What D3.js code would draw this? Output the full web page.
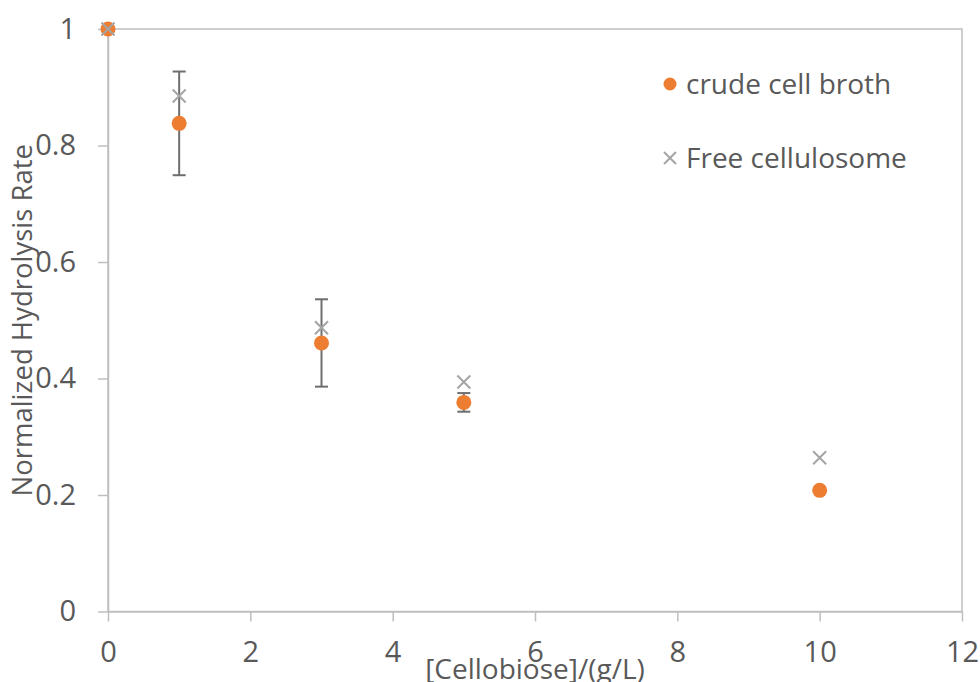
<!DOCTYPE html>
<html>
<head>
<meta charset="utf-8">
<script src="https://cdn.jsdelivr.net/npm/d3@7"></script>
<style>
  body { margin: 0; background: #fff; }
  svg { display: block; font-family: "Open Sans", sans-serif; }
</style>
</head>
<body>
<div id="chart"></div>
<script>
// data
const concentrations = [0, 1, 3, 5, 10];
const crudeBroth = [1, 0.838, 0.461, 0.359, 0.208];
const crudeBrothErr = [0, 0.089, 0.075, 0.016, 0];
const freeCellulosome = [1, 0.885, 0.487, 0.394, 0.264];
const xTicks = [0, 2, 4, 6, 8, 10, 12];
const yTicks = [0, 0.2, 0.4, 0.6, 0.8, 1];
const seriesNames = ["crude cell broth", "Free cellulosome"];

const width = 980, height = 682;
const margin = {top: 29, right: 18, bottom: 70.5, left: 108};

const svg = d3.select("#chart").append("svg")
    .attr("width", width)
    .attr("height", height);

const x = d3.scaleLinear().domain([0, 12]).range([margin.left, width - margin.right]);
const y = d3.scaleLinear().domain([0, 1]).range([height - margin.bottom, margin.top]);

const textColor = "#595959";
const axisColor = "#bfbfbf";
const orange = "#ed7d31";
const grey = "#a5a5a5";
const fontSize = "28px";

// plot box
svg.append("rect")
    .attr("x", x(0)).attr("y", y(1))
    .attr("width", x(12) - x(0)).attr("height", y(0) - y(1))
    .attr("fill", "none")
    .attr("stroke", axisColor)
    .attr("stroke-width", 1.5);

const xAxis = svg.append("g")
    .attr("transform", `translate(0,${y(0)})`)
    .call(d3.axisBottom(x).tickValues(xTicks).tickSize(10).tickSizeOuter(0).tickPadding(20)
        .tickFormat(d3.format("~g")));

const yAxis = svg.append("g")
    .attr("transform", `translate(${x(0)},0)`)
    .call(d3.axisLeft(y).tickValues(yTicks).tickSize(10).tickSizeOuter(0).tickPadding(22)
        .tickFormat(d3.format("~g")));

[xAxis, yAxis].forEach(g => {
    g.attr("font-family", "'Open Sans', sans-serif").attr("font-size", "29px");
    g.select(".domain").attr("stroke", axisColor).attr("stroke-width", 1.5);
    g.selectAll(".tick line").attr("stroke", axisColor).attr("stroke-width", 1.5);
    g.selectAll(".tick text").attr("fill", textColor);
});

// axis titles
svg.append("text")
    .attr("x", (x(0) + x(12)) / 2)
    .attr("y", 679)
    .attr("text-anchor", "middle")
    .attr("fill", textColor)
    .style("font-size", fontSize)
    .text("[Cellobiose]/(g/L)");

svg.append("text")
    .attr("transform", `translate(32,${(y(0) + y(1)) / 2}) rotate(-90)`)
    .attr("text-anchor", "middle")
    .attr("fill", textColor)
    .style("font-size", "27.5px")
    .text("Normalized Hydrolysis Rate");

const crude = concentrations.map((c, i) => ({x: c, y: crudeBroth[i], e: crudeBrothErr[i]}));
const free = concentrations.map((c, i) => ({x: c, y: freeCellulosome[i]}));

// error bars
const err = svg.append("g").attr("stroke", "#6e6e6e").attr("stroke-width", 2);
crude.filter(d => d.e > 0).forEach(d => {
    err.append("line")
        .attr("x1", x(d.x)).attr("x2", x(d.x))
        .attr("y1", y(d.y - d.e)).attr("y2", y(d.y + d.e));
    [d.y - d.e, d.y + d.e].forEach(v => {
        err.append("line")
            .attr("x1", x(d.x) - 6.5).attr("x2", x(d.x) + 6.5)
            .attr("y1", y(v)).attr("y2", y(v));
    });
});

function cross(g, cx, cy, s) {
    g.append("path")
        .attr("d", `M${cx - s},${cy - s}L${cx + s},${cy + s}M${cx - s},${cy + s}L${cx + s},${cy - s}`)
        .attr("stroke", grey)
        .attr("stroke-width", 2)
        .attr("fill", "none");
}

// crude cell broth dots
svg.append("g").selectAll("circle")
    .data(crude)
    .join("circle")
    .attr("cx", d => x(d.x))
    .attr("cy", d => y(d.y))
    .attr("r", 7.5)
    .attr("fill", orange);

// free cellulosome crosses
const freeG = svg.append("g");
free.forEach(d => cross(freeG, x(d.x), y(d.y), 6.5));

// legend
const legend = svg.append("g");
legend.append("circle").attr("cx", 670).attr("cy", 84).attr("r", 6.5).attr("fill", orange);
cross(legend, 670, 158, 6);
legend.selectAll("text")
    .data(seriesNames)
    .join("text")
    .attr("x", 686)
    .attr("y", (d, i) => 84 + i * 74)
    .attr("dy", "0.35em")
    .attr("fill", textColor)
    .style("font-size", fontSize)
    .text(d => d);
</script>
</body>
</html>
